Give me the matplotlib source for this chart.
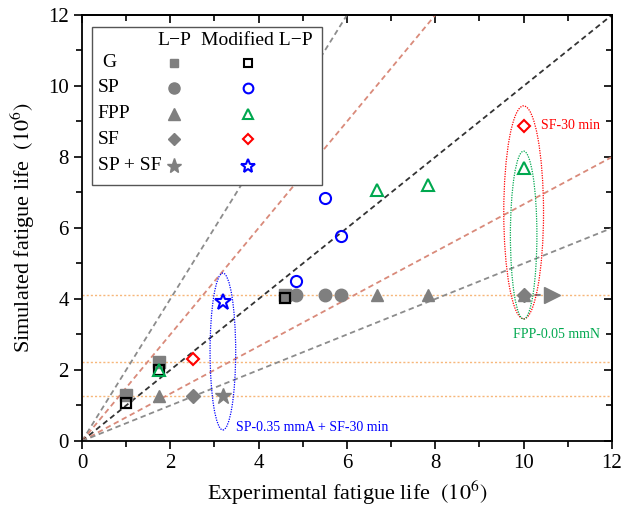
import matplotlib.pyplot as plt
from matplotlib.patches import Ellipse

plt.rcParams['font.family'] = ['Liberation Serif', 'DejaVu Serif']
plt.rcParams['mathtext.fontset'] = 'stix'

GRAY = '#7f7f7f'

# experimental life (x) and simulated life (y), 10^6 cycles
g_exp = [1.0, 1.74, 4.6]
g_lp = [1.30, 2.23, 4.10]
g_mod = [1.07, 2.0, 4.03]

sp_exp = [4.84, 5.5, 5.86]
sp_lp = [4.10, 4.10, 4.10]
sp_mod = [4.5, 6.85, 5.78]

fpp_exp = [1.74, 6.67, 7.83, 10.0]
fpp_lp = [1.27, 4.10, 4.10, 4.10]
fpp_mod = [2.0, 7.07, 7.2, 7.69]

sf_exp = [2.51, 10.0]
sf_lp = [1.27, 4.10]
sf_mod = [2.31, 8.87]

spsf_exp = [3.2]
spsf_lp = [1.27]
spsf_mod = [3.92]

levels = [4.1, 2.22, 1.27]
band_slopes = [(2.0, '#8c8c8c'), (1.5, '#d98a7a'), (1.0, '#333333'),
               (1 / 1.5, '#d98a7a'), (0.5, '#8c8c8c')]

fig = plt.figure(figsize=(6.33, 5.15), dpi=100)
ax = fig.add_axes([0.1295, 0.1437, 0.8373, 0.8272])

for lv in levels:
    ax.axhline(lv, color='#f7b77a', ls=(0, (1.5, 1.5)), lw=1.0, zorder=1)
for k, c in band_slopes:
    ax.plot([0, 12], [0, 12 * k], ls=(0, (3, 2)), color=c, lw=1.3, zorder=1)

ms = 8
ax.plot(g_exp, g_lp, 's', color=GRAY, ms=ms, zorder=3)
ax.plot(sp_exp, sp_lp, 'o', color=GRAY, ms=ms + 1, zorder=3)
ax.plot(fpp_exp, fpp_lp, '^', color=GRAY, ms=ms + 1, zorder=3)
ax.plot(sf_exp, sf_lp, 'D', color=GRAY, ms=ms - 0.5, zorder=3)
ax.plot(spsf_exp, spsf_lp, '*', color=GRAY, ms=ms + 4, zorder=3)

ax.plot(g_exp, g_mod, 's', mfc='none', mec='black', mew=1.6, ms=ms - 1, zorder=4)
ax.plot(sp_exp, sp_mod, 'o', mfc='none', mec='#0000ff', mew=1.5, ms=ms, zorder=4)
ax.plot(fpp_exp, fpp_mod, '^', mfc='none', mec='#00a84f', mew=1.5, ms=ms, zorder=4)
ax.plot(sf_exp, sf_mod, 'D', mfc='none', mec='#ff0000', mew=1.5, ms=ms - 1.5, zorder=4)
ax.plot(spsf_exp, spsf_mod, '*', mfc='none', mec='#0000ff', mew=1.5, ms=ms + 4, zorder=4)

# run-out arrow
ax.plot([10.0, 10.65], [4.1, 4.1], ls=(0, (3, 2)), color=GRAY, lw=1.5, zorder=2)
ax.plot([10.65], [4.1], '>', color=GRAY, ms=11, zorder=2)

ax.add_patch(Ellipse((3.19, 2.52), 0.58, 4.42, fill=False, ec='#0000ff',
                     ls=(0, (1, 1)), lw=0.9, zorder=2))
ax.add_patch(Ellipse((10.0, 6.44), 0.9, 6.0, fill=False, ec='#ff0000',
                     ls=(0, (1, 1)), lw=0.9, zorder=2))
ax.add_patch(Ellipse((10.0, 5.8), 0.6, 4.73, fill=False, ec='#00a84f',
                     ls=(0, (1, 1)), lw=0.9, zorder=2))

ax.text(10.4, 8.88, 'SF-30 min', color='#ff0000', fontsize=10, va='center')
ax.text(9.75, 2.99, 'FPP-0.05 mmN', color='#00a84f', fontsize=10, va='center')
ax.text(3.48, 0.37, 'SP-0.35 mmA + SF-30 min', color='#0000ff', fontsize=10, va='center')

# legend drawn as a small table
ax.add_patch(plt.Rectangle((0.019, 0.600), 0.434, 0.372, transform=ax.transAxes,
                           fill=True, fc='white', ec='#555555', lw=1.0, zorder=5))
tr = ax.transAxes
ax.text(0.174, 0.941, 'L\u2212P', transform=tr, fontsize=14, ha='center', va='center', zorder=6)
ax.text(0.330, 0.941, 'Modified L\u2212P', transform=tr, fontsize=14, ha='center', va='center', zorder=6)
rows = [('G', 's', 'black', 0.888, 7, 7), ('SP', 'o', '#0000ff', 0.829, 9, 8),
        ('FPP', '^', '#00a84f', 0.768, 9, 8), ('SF', 'D', '#ff0000', 0.708, 7.5, 6.5),
        ('SP + SF', '*', '#0000ff', 0.646, 12, 11)]
for lab, m, c, yy, s1, s2 in rows:
    xl = 0.038 if lab == 'G' else 0.030
    ax.text(xl, yy, lab, transform=tr, fontsize=14, ha='left', va='center', zorder=6)
    ax.plot([0.174], [yy], m, color=GRAY, ms=s1 - 1, transform=tr, zorder=6, clip_on=False)
    ax.plot([0.313], [yy], m, mfc='none', mec=c, mew=1.5, ms=s2 - 1, transform=tr,
            zorder=6, clip_on=False)

ax.set_xlim(0, 12)
ax.set_ylim(0, 12)
ax.set_xticks(range(0, 13, 2))
ax.set_yticks(range(0, 13, 2))
ax.set_xticks(range(1, 12, 2), minor=True)
ax.set_yticks(range(1, 12, 2), minor=True)
ax.tick_params(which='both', direction='out', labelsize=15, width=1.2)
ax.tick_params(which='major', length=6)
ax.tick_params(which='minor', length=4)
sec_x = ax.secondary_xaxis('top')
sec_x.set_xticks(range(0, 13, 2))
sec_x.set_xticks(range(1, 12, 2), minor=True)
sec_x.tick_params(which='both', direction='in', labeltop=False, width=1.2)
sec_x.tick_params(which='major', length=6)
sec_x.tick_params(which='minor', length=4)
sec_y = ax.secondary_yaxis('right')
sec_y.set_yticks(range(0, 13, 2))
sec_y.set_yticks(range(1, 12, 2), minor=True)
sec_y.tick_params(which='both', direction='in', labelright=False, width=1.2)
sec_y.tick_params(which='major', length=6)
sec_y.tick_params(which='minor', length=4)
for sp in ax.spines.values():
    sp.set_linewidth(1.3)
sec_x.spines['top'].set_linewidth(1.3)
sec_y.spines['right'].set_linewidth(1.3)

ax.set_xlabel('Experimental fatigue life  $(10^6)$', fontsize=16)
ax.set_ylabel('Simulated fatigue life  $(10^6)$', fontsize=16, labelpad=8)

fig.savefig('out.png', dpi=100)
